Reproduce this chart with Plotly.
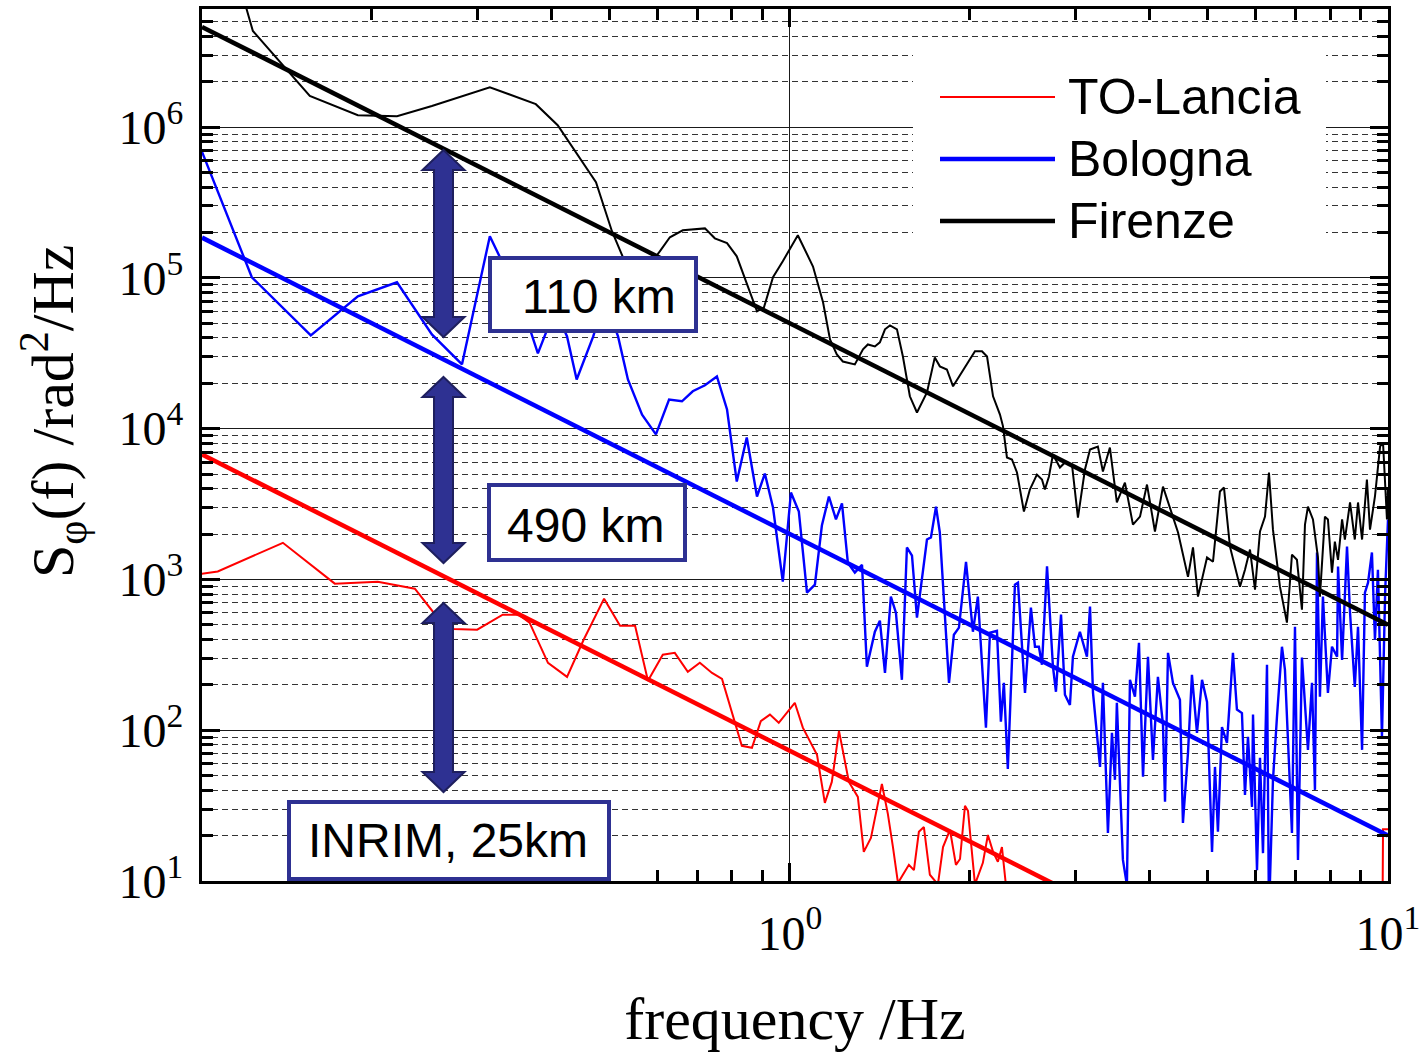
import math
import plotly.graph_objects as go

# ---------------- data ----------------
lancia_f = [0.1039, 0.1105, 0.142, 0.1734, 0.2046, 0.236, 0.253, 0.274, 0.300, 0.331,
            0.352, 0.367, 0.394, 0.424, 0.452, 0.489, 0.520, 0.551, 0.579, 0.613,
            0.642, 0.675, 0.707, 0.741, 0.770, 0.831, 0.864, 0.894, 0.926, 0.958,
            1.019, 1.051, 1.110, 1.144, 1.175, 1.208, 1.255, 1.299, 1.329, 1.366,
            1.425, 1.458, 1.487, 1.516, 1.545, 1.581, 1.612, 1.643, 1.675, 1.714,
            1.768, 1.803, 1.852, 1.895, 1.925, 1.962, 1.985, 2.039, 2.102, 2.143,
            2.186, 2.227, 2.262, 2.297, 2.6, 3.5, 5.0, 7.0, 9.78, 9.81,
            10.0]
lancia_S = [1090, 1130, 1750, 938, 967, 869, 611, 470, 464, 584,
            584, 517, 280, 226, 398, 746, 493, 493, 213, 317,
            326, 244, 280, 240, 219, 78.8, 76.4, 115, 127, 112,
            152, 104, 68.7, 33.0, 45.4, 99.1, 45.4, 36.1, 15.6, 19.3,
            44.1, 27.9, 16.8, 9.7, 11.0, 12.8, 11.8, 21.2, 22.8, 11.0,
            9.5, 16.8, 21.8, 12.8, 14.0, 31.5, 29.2, 9.5, 13.2, 20.2,
            15.6, 13.4, 16.8, 9.4, 4, 3, 2.5, 3, 3, 22,
            22]

bologna_f = [0.1039, 0.1260, 0.1581, 0.1895, 0.2203, 0.252, 0.283, 0.315, 0.354, 0.379,
             0.405, 0.424, 0.440, 0.469, 0.490, 0.516, 0.536, 0.566, 0.597, 0.628,
             0.660, 0.688, 0.721, 0.755, 0.785, 0.815, 0.847, 0.881, 0.908, 0.937,
             0.973, 1.004, 1.035, 1.068, 1.101, 1.131, 1.162, 1.194, 1.222, 1.250,
             1.284, 1.320, 1.345, 1.387, 1.414, 1.442, 1.475, 1.504, 1.539, 1.569,
             1.600, 1.631, 1.695, 1.721, 1.755, 1.781, 1.845, 1.880, 1.917, 1.970,
             2.023, 2.062, 2.127, 2.160, 2.219, 2.253, 2.279, 2.314, 2.378, 2.406,
             2.472, 2.529, 2.569, 2.608, 2.639, 2.691, 2.753, 2.785, 2.840, 2.883,
             2.939, 2.973, 3.054, 3.138, 3.175, 3.212, 3.300, 3.337, 3.402, 3.455,
             3.495, 3.521, 3.604, 3.660, 3.703, 3.775, 3.834, 3.894, 3.969, 4.046,
             4.124, 4.205, 4.238, 4.287, 4.370, 4.489, 4.541, 4.630, 4.701, 4.793,
             4.887, 4.982, 5.079, 5.137, 5.196, 5.277, 5.380, 5.505, 5.590, 5.699,
             5.766, 5.833, 5.924, 5.947, 6.039, 6.109, 6.180, 6.276, 6.324, 6.422,
             6.522, 6.648, 6.725, 6.803, 6.909, 6.990, 7.071, 7.180, 7.264, 7.348,
             7.463, 7.549, 7.608, 7.695, 7.784, 7.935, 8.06, 8.22, 8.25, 8.38,
             8.54, 8.64, 8.80, 8.91, 9.05, 9.15, 9.26, 9.40, 9.51, 9.62,
             9.77, 9.89, 10.0]
bologna_S = [6.93e5, 1.01e5, 4.16e4, 7.55e4, 9.35e4, 4.22e4, 2.67e4, 1.89e5, 7.2e4, 3.16e4,
             6.2e4, 4.09e4, 2.12e4, 4.09e4, 7.2e4, 4.09e4, 2.12e4, 1.24e4, 9.16e3, 1.56e4,
             1.52e4, 1.77e4, 1.94e4, 2.22e4, 1.34e4, 4.46e3, 8.74e3, 3.55e3, 5.04e3, 3.0e3,
             967, 3.77e3, 2.82e3, 817, 924, 2.28e3, 3.55e3, 2.5e3, 3.19e3, 1.29e3,
             1.11e3, 1.25e3, 264, 450, 533, 240, 769, 602, 216, 1.63e3,
             1.44e3, 558, 1.84e3, 1.9e3, 3.04e3, 2.05e3, 206, 430, 479, 1.31e3,
             450, 769, 104, 443, 457, 114, 206, 55.4, 924, 952,
             177, 650, 358, 358, 272, 1.22e3, 264, 180, 584, 172,
             147, 307, 450, 307, 660, 177, 57.1, 206, 20.8, 96.1,
             46.9, 152, 13.8, 9.4, 216, 167, 380, 49.1, 307, 63.6,
             226, 109, 33.5, 326, 206, 159, 24.3, 70.8, 233, 96.1,
             216, 154, 15.6, 57.1, 21.2, 105, 82.5, 326, 137, 130,
             37.2, 90.4, 31.0, 127, 11.8, 65.6, 15.3, 272, 6.0, 46.9,
             123, 358, 252, 96.1, 20.8, 486, 13.8, 303, 159, 74.1,
             206, 40.2, 1.51e3, 167, 769, 177, 358, 307, 1.22e3, 293,
             1.65e3, 602, 194, 486, 74.1, 817, 952, 1.51e3, 398, 1.16e3,
             90.4, 817, 2.5e3]

firenze_f = [0.120, 0.1265, 0.1575, 0.1895, 0.2203, 0.252, 0.315, 0.376, 0.409, 0.474,
             0.504, 0.55, 0.606, 0.630, 0.662, 0.721, 0.749, 0.785, 0.815, 0.841,
             0.864, 0.881, 0.905, 0.937, 0.973, 1.031, 1.093, 1.136, 1.167, 1.198,
             1.226, 1.284, 1.325, 1.350, 1.387, 1.414, 1.442, 1.470, 1.510, 1.545,
             1.587, 1.631, 1.695, 1.747, 1.781, 1.830, 1.874, 1.985, 2.039, 2.095,
             2.136, 2.186, 2.245, 2.271, 2.306, 2.351, 2.397, 2.462, 2.519, 2.588,
             2.639, 2.669, 2.711, 2.753, 2.828, 2.883, 2.962, 3.031, 3.114, 3.175,
             3.273, 3.337, 3.428, 3.521, 3.632, 3.746, 3.849, 3.954, 4.077, 4.205,
             4.321, 4.456, 4.630, 4.720, 4.812, 4.982, 5.098, 5.236, 5.318, 5.442,
             5.656, 5.766, 5.878, 5.993, 6.109, 6.228, 6.324, 6.422, 6.597, 6.777,
             6.909, 7.043, 7.180, 7.264, 7.348, 7.491, 7.636, 7.695, 7.844, 7.935,
             8.06, 8.15, 8.25, 8.38, 8.47, 8.64, 8.80, 8.91, 9.05, 9.22,
             9.33, 9.51, 9.70, 9.81, 9.96, 10.0]
firenze_S = [9.0e6, 4.34e6, 1.61e6, 1.20e6, 1.18e6, 1.38e6, 1.84e6, 1.42e6, 1.03e6, 4.31e5,
             2.04e5, 9.0e4, 1.50e5, 1.86e5, 2.07e5, 2.13e5, 1.83e5, 1.70e5, 1.39e5, 9.79e4,
             7.21e4, 6.0e4, 6.38e4, 1.01e5, 1.29e5, 1.92e5, 1.19e5, 6.89e4, 3.91e4, 3.11e4,
             2.79e4, 2.67e4, 3.36e4, 3.62e4, 3.51e4, 3.74e4, 4.56e4, 4.84e4, 4.56e4, 3.01e4,
             1.64e4, 1.28e4, 1.74e4, 2.97e4, 2.59e4, 2.47e4, 1.91e4, 2.75e4, 3.26e4, 3.26e4,
             3.01e4, 1.64e4, 1.24e4, 1.04e4, 6.44e3, 6.25e3, 5.12e3, 2.82e3, 3.95e3, 4.96e3,
             4.6e3, 3.95e3, 4.82e3, 6.74e3, 5.53e3, 5.97e3, 5.79e3, 2.57e3, 5.36e3, 7.28e3,
             7.62e3, 5.2e3, 7.5e3, 3.24e3, 4.39e3, 2.31e3, 2.61e3, 4.26e3, 2.08e3, 4.13e3,
             3.0e3, 2.05e3, 1.04e3, 1.63e3, 769, 1.40e3, 1.31e3, 3.83e3, 4.07e3, 1.65e3,
             896, 1.16e3, 1.58e3, 855, 2.08e3, 2.61e3, 5.12e3, 2.14e3, 896, 517,
             1.46e3, 1.35e3, 630, 2.31e3, 3.04e3, 2.5e3, 1.40e3, 769, 2.61e3, 2.5e3,
             1.11e3, 1.78e3, 1.35e3, 2.5e3, 1.84e3, 3.24e3, 1.84e3, 3.24e3, 1.84e3, 4.6e3,
             2.14e3, 3.55e3, 7.62e3, 8.1e3, 2.5e3, 4.0e3]

# power-law fit lines (end points)
fit_f = [0.104, 10.0]
lancia_fit = [6750, 0.73]
bologna_fit = [1.85e5, 20]
firenze_fit = [4.62e6, 500]

assert len(lancia_f) == len(lancia_S)
assert len(bologna_f) == len(bologna_S)
assert len(firenze_f) == len(firenze_S)

# axis ticks
x_major = [1, 10]
x_major_text = ['10<sup>0</sup>', '10<sup>1</sup>']
x_minor = [m * 10.0 ** e for e in (-1, 0) for m in range(2, 10)]
y_major = [1e1, 1e2, 1e3, 1e4, 1e5, 1e6]
y_major_text = ['10<sup>1</sup>', '10<sup>2</sup>', '10<sup>3</sup>',
                '10<sup>4</sup>', '10<sup>5</sup>', '10<sup>6</sup>']
y_minor = [m * 10.0 ** e for e in range(1, 7) for m in range(2, 10)]

series_names = ['TO-Lancia', 'Bologna', 'Firenze']
series_colors = ['#FF0000', '#0000FF', '#000000']
legend_widths = [2, 4.5, 4.5]
labels = ['110 km', '490 km', 'INRIM, 25km']

# ---------------- layout geometry ----------------
FIG_W, FIG_H = 1421, 1052
ML, MR, MT, MB = 202, 33, 9, 171
PW = FIG_W - ML - MR
PH = FIG_H - MT - MB


def px(x):
    return (x - ML) / PW


def py(y):
    return (FIG_H - MB - y) / PH


NAVY = '#2E3192'
NAVY_DARK = '#1E1F5E'
SERIF = 'Liberation Serif'
SANS = 'Liberation Sans'

fig = go.Figure()

fig.add_trace(go.Scatter(x=lancia_f, y=lancia_S, mode='lines', name='TO-Lancia',
                         line=dict(color=series_colors[0], width=2)))
fig.add_trace(go.Scatter(x=bologna_f, y=bologna_S, mode='lines', name='Bologna',
                         line=dict(color=series_colors[1], width=2.4)))
fig.add_trace(go.Scatter(x=firenze_f, y=firenze_S, mode='lines', name='Firenze',
                         line=dict(color=series_colors[2], width=2)))
fig.add_trace(go.Scatter(x=fit_f, y=lancia_fit, mode='lines', name='TO-Lancia fit',
                         line=dict(color=series_colors[0], width=4.5)))
fig.add_trace(go.Scatter(x=fit_f, y=bologna_fit, mode='lines', name='Bologna fit',
                         line=dict(color=series_colors[1], width=4.5)))
fig.add_trace(go.Scatter(x=fit_f, y=firenze_fit, mode='lines', name='Firenze fit',
                         line=dict(color=series_colors[2], width=4.5)))

axis_common = dict(
    type='log', showline=True, linewidth=3, linecolor='black', mirror='ticks',
    ticks='inside', ticklen=18, tickwidth=3, tickcolor='black',
    showgrid=True, gridcolor='#1a1a1a', gridwidth=1.3, zeroline=False,
    tickfont=dict(family=SERIF, size=48, color='black'),
)

fig.update_xaxes(
    **axis_common,
    range=[math.log10(0.104), 1.0],
    tickmode='array', tickvals=x_major, ticktext=x_major_text,
    ticklabelstandoff=8,
    minor=dict(tickmode='array', tickvals=x_minor, ticks='inside', ticklen=11,
               tickwidth=2.5, tickcolor='black', showgrid=False),
    title=dict(text='frequency /Hz', font=dict(family=SERIF, size=60, color='black'),
               standoff=40),
)
fig.update_yaxes(
    **axis_common,
    range=[1.0, 6.7835],
    tickmode='array', tickvals=y_major, ticktext=y_major_text,
    ticklabelstandoff=6,
    minor=dict(tickmode='array', tickvals=y_minor, ticks='inside', ticklen=11,
               tickwidth=2.5, tickcolor='black', showgrid=True,
               gridcolor='#333333', gridwidth=1.2, griddash='6px,4px'),
)

shapes = []
# legend background (hides the grid)
shapes.append(dict(type='rect', xref='paper', yref='paper', x0=px(913), x1=px(1326),
                   y0=py(250), y1=py(45), fillcolor='white', line=dict(width=0), layer='above'))
# legend line samples
legend_rows = [97, 159, 221]
for ry, col, w in zip(legend_rows, series_colors, legend_widths):
    shapes.append(dict(type='line', xref='paper', yref='paper', x0=px(940), x1=px(1055),
                       y0=py(ry), y1=py(ry), line=dict(color=col, width=w), layer='above'))
# label boxes
for (x0, x1, y0, y1) in [(490, 696, 258, 331), (489, 685, 485, 560), (289, 609, 802, 879)]:
    shapes.append(dict(type='rect', xref='paper', yref='paper', x0=px(x0), x1=px(x1),
                       y0=py(y1), y1=py(y0), fillcolor='white',
                       line=dict(color=NAVY, width=4), layer='above'))


def arrow_path(cx, top, bot, hw=21, sw=9.5, hl=20):
    pts = [(cx, top), (cx + hw, top + hl), (cx + sw, top + hl), (cx + sw, bot - hl),
           (cx + hw, bot - hl), (cx, bot), (cx - hw, bot - hl), (cx - sw, bot - hl),
           (cx - sw, top + hl), (cx - hw, top + hl)]
    return 'M ' + ' L '.join(f'{px(a):.5f},{py(b):.5f}' for a, b in pts) + ' Z'


for (t, b) in [(150, 337), (377, 563), (603, 792)]:
    shapes.append(dict(type='path', xref='paper', yref='paper', path=arrow_path(443.5, t, b),
                       fillcolor=NAVY, line=dict(color=NAVY_DARK, width=2), layer='above'))

annotations = []
for text, (cx, cy) in zip(labels, [(599, 296), (585, 525), (448, 840)]):
    annotations.append(dict(text=text, xref='paper', yref='paper', x=px(cx), y=py(cy),
                            xanchor='center', yanchor='middle', showarrow=False,
                            font=dict(family=SANS, size=48, color='black')))
# legend texts
for name, ry in zip(series_names, legend_rows):
    annotations.append(dict(text=name, xref='paper', yref='paper', x=px(1066), y=py(ry),
                            xanchor='left', yanchor='middle', showarrow=False,
                            font=dict(family=SANS, size=50, color='black')))
# y-axis title
annotations.append(dict(text='S<sub>φ</sub>(f) /rad<sup>2</sup>/Hz', xref='paper', yref='paper',
                        x=px(53), y=py(411), xanchor='center', yanchor='middle',
                        textangle=-90, showarrow=False,
                        font=dict(family=SERIF, size=60, color='black')))

fig.update_layout(
    width=FIG_W, height=FIG_H,
    margin=dict(l=ML, r=MR, t=MT, b=MB, autoexpand=False),
    paper_bgcolor='white', plot_bgcolor='white',
    shapes=shapes, annotations=annotations,
    showlegend=False,
)

fig.write_html('out.html')
